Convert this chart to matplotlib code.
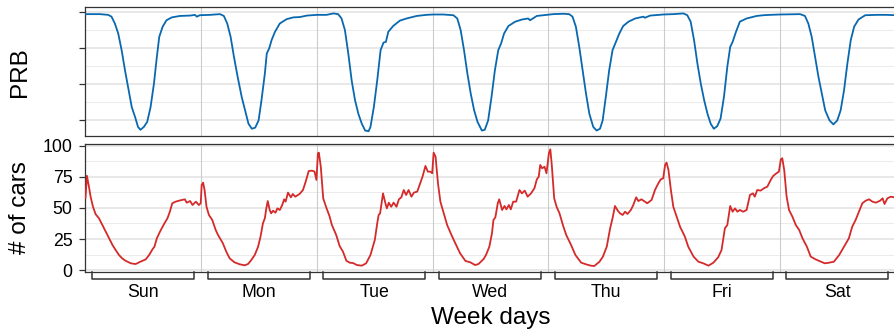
import matplotlib.pyplot as plt
import matplotlib.transforms as mtransforms

plt.rcParams['font.family'] = ['Liberation Sans', 'DejaVu Sans']

days = ['Sun', 'Mon', 'Tue', 'Wed', 'Thu', 'Fri', 'Sat']

# PRB (top panel), hours since Sunday 00:00
prb_hours = [0, 3, 4.7, 5.4, 6.1, 6.8, 7.5, 8.2, 8.9, 9.6, 10.3, 10.9, 11.4, 12.1, 12.8,
             13.5, 14.2, 14.8, 15.3, 16, 16.8, 17.9, 19.6, 21.7, 22.7, 23.1, 23.7, 25.8,
             27.9, 28.7, 29.4, 30.1, 30.8, 31.5, 32.4, 33.1, 33.8, 34.5, 35.2, 35.9, 36.5,
             37.2, 37.6, 38.1, 38.6, 39.3, 40.3, 41.7, 43.1, 44.5, 45.9, 48, 50, 51.4, 52.4,
             53.1, 53.8, 54.5, 55.2, 55.9, 56.6, 57.3, 58, 58.7, 59.1, 59.8, 60.5, 61.2,
             61.8, 62.3, 62.8, 63.8, 65.2, 66.6, 68.7, 70.7, 72.1, 74.2, 76.3, 77.1, 77.8,
             78.5, 79.2, 79.9, 80.6, 81.3, 82.2, 82.8, 83.5, 84.2, 84.9, 85.6, 86.2, 86.8,
             87.7, 89.1, 90.5, 91.8, 92.2, 93.6, 95, 97, 99.1, 100.3, 101, 101.7, 102.4,
             103.1, 103.8, 104.5, 105.3, 106, 106.7, 107.25, 107.9, 108.6, 109.3, 110,
             110.7, 111.5, 112.6, 114, 115.7, 116, 117.1, 119.8, 121.9, 124, 124.8, 125.5,
             126.2, 126.9, 127.6, 128.3, 129, 129.65, 130.3, 131, 131.7, 132.4, 133.1,
             133.7, 134.2, 134.9, 135.7, 137.1, 139.2, 140.6, 142, 144, 148.2, 149.2,
             149.9, 150.6, 151.3, 152, 152.7, 153.4, 154.3, 155.1, 155.9, 156.6, 157.3,
             158, 158.7, 159.4, 160.3, 161.7, 164.1, 166.1, 168]
prb_values = [2.95, 2.95, 2.93, 2.88, 2.69, 2.41, 1.95, 1.39, 0.88, 0.37, 0.09, -0.18, -0.26,
              -0.18, -0.04, 0.37, 1.02, 1.76, 2.32, 2.6, 2.78, 2.86, 2.9, 2.91, 2.93, 2.88,
              2.92, 2.93, 2.95, 2.9, 2.69, 2.32, 1.76, 1.25, 0.65, 0.28, -0.09, -0.23, -0.2,
              0, 0.56, 1.3, 1.86, 2, 2.23, 2.46, 2.69, 2.81, 2.86, 2.87, 2.91, 2.93, 2.93,
              2.97, 2.95, 2.83, 2.51, 1.86, 1.11, 0.56, 0.18, -0.09, -0.28, -0.3, -0.18,
              0.37, 1.11, 1.95, 2.16, 2.18, 2.46, 2.62, 2.77, 2.83, 2.9, 2.93, 2.94, 2.94,
              2.92, 2.83, 2.51, 1.95, 1.3, 0.74, 0.28, -0.04, -0.28, -0.26, 0, 0.65, 1.39,
              1.95, 2.14, 2.41, 2.62, 2.74, 2.8, 2.83, 2.78, 2.9, 2.92, 2.95, 2.96, 2.95,
              2.88, 2.6, 2.04, 1.39, 0.74, 0.18, -0.18, -0.28, -0.23, 0, 0.65, 1.39, 1.95,
              2.18, 2.41, 2.62, 2.74, 2.83, 2.88, 2.85, 2.91, 2.94, 2.95, 2.97, 2.92, 2.74,
              2.23, 1.58, 1.02, 0.56, 0.18, -0.09, -0.23, -0.16, 0.05, 0.65, 1.49, 2.04,
              2.18, 2.46, 2.74, 2.83, 2.9, 2.92, 2.93, 2.94, 2.95, 2.9, 2.69, 2.32, 1.76,
              1.21, 0.74, 0.28, 0, -0.11, 0, 0.28, 0.83, 1.58, 2.23, 2.6, 2.8, 2.92, 2.93,
              2.93, 2.92]

# number of cars (bottom panel)
car_hours = [0, 0.3, 0.73, 1.07, 1.56, 2.1, 2.8, 3.5, 4.2, 4.9, 5.6, 6.26, 6.95, 7.6, 8.3,
             9.4, 10.4, 11.4, 12.5, 13.2, 13.9, 14.3, 14.8, 15.45, 16.3, 17, 17.5, 18,
             18.7, 19.4, 20.1, 20.6, 21, 21.7, 22.2, 22.9, 23.5, 23.9, 24.1, 24.4, 24.7,
             25.1, 25.6, 26.3, 27, 27.5, 28.5, 29.2, 29.9, 30.9, 32, 33, 33.7, 34.4, 35.1,
             35.8, 36.3, 36.8, 37.2, 37.5, 37.8, 38.2, 38.5, 38.9, 39.4, 39.8, 40.3, 40.8,
             41.2, 41.5, 42, 42.6, 43, 43.5, 44.4, 45.1, 45.6, 46.3, 47, 47.5, 47.9, 48.2,
             48.4, 48.8, 49.3, 50, 50.6, 51.1, 52, 52.7, 53.4, 54.1, 54.8, 55.5, 56.3,
             57.3, 58.2, 59.1, 60, 60.5, 60.8, 61.1, 61.7, 62.2, 62.5, 62.9, 63.4, 63.9,
             64.5, 65, 65.5, 66, 66.5, 67, 67.6, 68.1, 68.8, 69.4, 69.9, 70.5, 71, 71.5,
             71.9, 72.2, 72.6, 73.1, 73.6, 74.3, 75, 75.9, 76.7, 77.7, 78.8, 79.8, 80.8,
             81.5, 82.6, 83.1, 83.75, 84.3, 84.6, 85, 85.5, 85.8, 86.4, 86.9, 87.3, 87.8,
             88.2, 88.7, 89.3, 90, 90.5, 91.1, 91.7, 92.4, 93.1, 93.6, 94, 94.3, 94.7,
             95.2, 95.6, 96.1, 96.4, 96.7, 97.2, 97.7, 98.3, 99, 99.7, 100.7, 101.6, 102.8,
             103.8, 104.8, 105.5, 106.6, 107.3, 108.1, 108.8, 109.3, 109.8, 110.4, 110.85,
             111.4, 111.9, 112.4, 113.1, 113.6, 114.2, 114.65, 115.3, 116, 116.5, 117.4,
             118.1, 118.8, 119.3, 119.8, 120.2, 120.5, 120.9, 121.4, 121.9, 122.6, 123.3,
             124.3, 125, 126.1, 127.1, 128.1, 129.2, 130.2, 131.2, 131.9, 132.6, 133.1,
             133.7, 134.2, 134.7, 135.2, 135.7, 136.4, 137.1, 137.8, 138.4, 138.8, 139.3,
             140, 140.7, 141.4, 142.1, 142.6, 143.3, 143.8, 144.2, 144.5, 144.9, 145.4,
             145.9, 146.6, 147.3, 148, 148.7, 149.6, 150.4, 151.4, 152.5, 153.3, 154.2,
             155.2, 156.3, 157.3, 158.3, 159, 159.7, 160.4, 161.1, 161.8, 162.5, 163.2,
             163.9, 164.8, 165.3, 165.7, 166.3, 167, 167.7, 168]
car_values = [58, 76, 67, 59, 51, 45, 41.7, 36.3, 31, 25.5, 20.2, 16.1, 12.1, 9.4, 7.5, 5.4,
              4.8, 6.7, 8.6, 12.1, 16.7, 18.8, 25.5, 30.9, 37.1, 41.7, 47, 53.8, 55.1, 55.9,
              56.5, 57, 54.3, 55.6, 52.4, 55.1, 52.4, 53.8, 68.5, 70.4, 64.5, 51, 44.4,
              40.3, 32.3, 28.2, 21.5, 14.8, 9.4, 6.2, 4.6, 3.8, 4.8, 8.1, 12.1, 18.8, 26.9,
              37.6, 41.7, 49.7, 55.6, 48.4, 45.7, 47.8, 46.2, 49.7, 48.4, 52.4, 57, 55.1,
              62.4, 58.6, 61.3, 59.1, 61.3, 64.5, 70.4, 79.8, 80.1, 79.3, 72.6, 94.1, 94.6,
              83.3, 57.8, 49.7, 43.5, 36.3, 28.2, 19.4, 14.8, 7.5, 5.9, 5.6, 4, 3.5, 5.4,
              12.1, 24.2, 37.6, 44.4, 45.7, 61.8, 53.8, 49.7, 54.3, 51, 54.3, 51, 57, 58.6,
              64.5, 60.5, 64.5, 59.1, 62.4, 63.2, 69.9, 75.3, 83.9, 79.3, 79.3, 78, 94.6,
              91.4, 69.9, 55.1, 45.7, 36.3, 28.2, 21.5, 13.4, 7.3, 6.2, 4, 4.8, 9, 12.5,
              18.8, 29.6, 40.3, 42.5, 53.8, 57, 48.4, 51.6, 48.9, 52.4, 48.9, 55.1, 55.1,
              64.5, 61.8, 64, 59.1, 61.8, 65.9, 73.1, 75.3, 84.7, 82, 83.3, 78, 94.1, 97.3,
              84.7, 57.8, 51, 45.7, 36.3, 28.2, 20.2, 12.1, 5.9, 4.6, 3.5, 3.2, 6.7, 10.8,
              18.8, 33.6, 41.7, 51.6, 47.8, 45.7, 44.4, 47, 45.2, 48.4, 52.4, 58.6, 55.6,
              57, 55.1, 53.8, 56.5, 64.5, 69.9, 73.1, 73.9, 84.7, 86.6, 80.6, 64.5, 51, 43,
              34.9, 26.9, 18.8, 10.8, 6.7, 5.4, 3.5, 5.9, 10.2, 16.1, 33.6, 36.3, 51.6, 47,
              49.7, 47, 48.4, 47, 48.4, 60.5, 61.8, 59.1, 64.5, 64, 65.9, 67.2, 72.6, 75.8,
              78, 79.3, 89.2, 90.1, 80.6, 59.1, 48.4, 43, 36.3, 32.3, 25.5, 18.8, 10.8, 8.6,
              6.7, 5.4, 5.9, 6.7, 12.1, 18.8, 25.5, 34.9, 40.3, 47, 53.8, 55.9, 57, 55.1,
              54.3, 55.9, 57.8, 53.2, 57.8, 59.1, 58.6, 59]

prb_ticks = [0, 1, 2, 3]
car_ticks = [0, 25, 50, 75, 100]

fig = plt.figure(figsize=(8.94, 3.33), dpi=100)
ax1 = fig.add_axes([0.0956, 0.5907, 0.9062, 0.3874])
ax2 = fig.add_axes([0.0956, 0.1832, 0.9062, 0.3844])

for ax in (ax1, ax2):
    ax.set_xlim(0, 168)
    ax.set_xticks([])
    ax.set_axisbelow(True)
    ax.yaxis.grid(True, which='major', color='#E6E6E6', lw=1.3)
    ax.yaxis.grid(True, which='minor', color='#EBEBEB', lw=0.7)
    for k in range(1, 7):
        ax.axvline(24 * k, color='#CCCCCC', lw=0.8, zorder=1)
    for s in ax.spines.values():
        s.set_color('#333333')
        s.set_linewidth(0.9)
    ax.tick_params(axis='y', which='major', length=4.3, width=0.9, color='#333333',
                   pad=5, labelsize=12.8, labelcolor='black')
    ax.tick_params(axis='y', which='minor', length=0)

ax1.plot(prb_hours, prb_values, color='#0868B0', lw=1.3, zorder=3)
ax1.set_ylim(-0.44, 3.14)
ax1.set_yticks(prb_ticks)
ax1.set_yticks([0.5, 1.5, 2.5], minor=True)
ax1.set_yticklabels([])
ax1.text(-0.081, 0.5, 'PRB', transform=ax1.transAxes, rotation=90,
         ha='center', va='center', fontsize=17.5)

ax2.plot(car_hours, car_values, color='#D42A2A', lw=1.3, zorder=3)
ax2.set_ylim(-1.6, 101.6)
ax2.set_yticks(car_ticks)
ax2.set_yticks([12.5, 37.5, 62.5, 87.5], minor=True)
ax2.text(-0.081, 0.5, '# of cars', transform=ax2.transAxes, rotation=90,
         ha='center', va='center', fontsize=17.5)

# day brackets under the lower panel
trans = mtransforms.blended_transform_factory(ax2.transData, ax2.transAxes)
for i, d in enumerate(days):
    x0 = 24 * i + 1.35
    x1 = 24 * i + 22.5
    ax2.plot([x0, x0, x1, x1], [0, -0.055, -0.055, 0], transform=trans,
             color='#333333', lw=1.1, clip_on=False)
    ax2.text((x0 + x1) / 2, -0.16, d, transform=trans, ha='center', va='center',
             fontsize=12.8)

ax2.text(0.5, -0.36, 'Week days', transform=ax2.transAxes, ha='center', va='center',
         fontsize=17.5)

fig.savefig('out.png', dpi=100)
